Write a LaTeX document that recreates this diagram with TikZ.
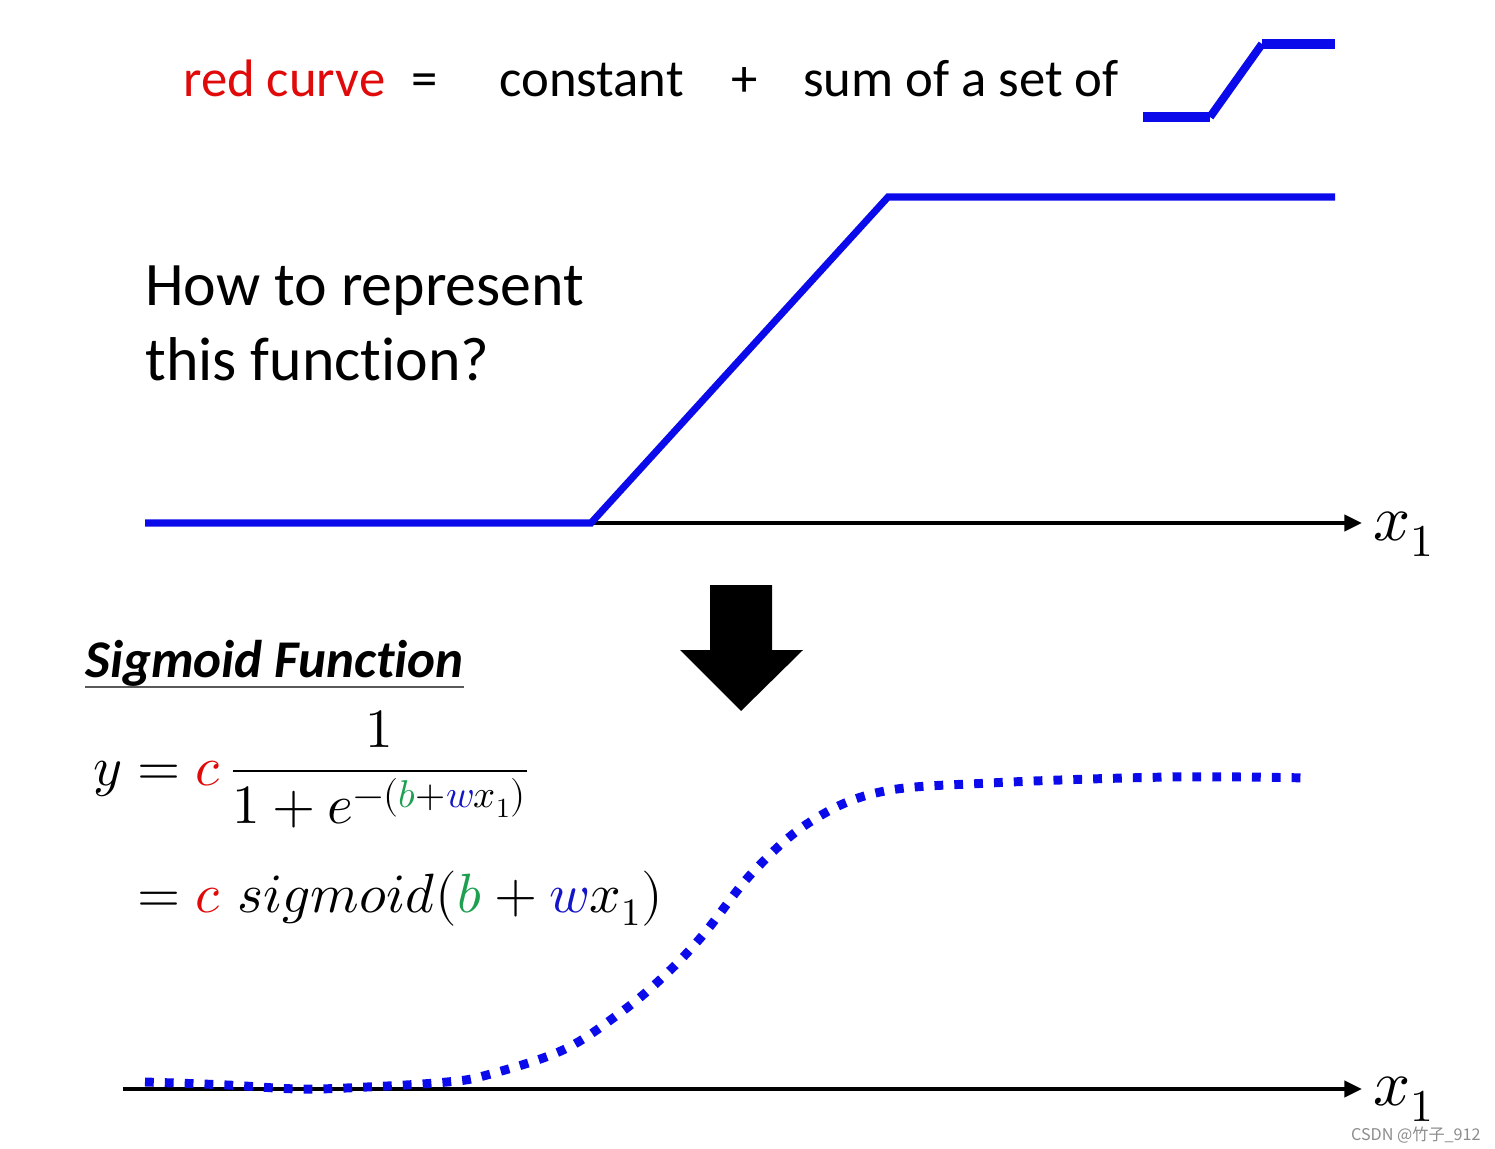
\documentclass[tikz,border=0pt]{standalone}
\usepackage{amsmath}
\usepackage{fontspec}
\usepackage{unicode-math}
\setmathfont{Latin Modern Math}
\usetikzlibrary{arrows.meta, positioning}
\newfontfamily\calibri[Ligatures={NoCommon}]{Carlito}
\newfontfamily\cjk{Noto Sans CJK SC}
\definecolor{curveblue}{RGB}{10,10,235}
\definecolor{redtxt}{RGB}{225,10,10}
\definecolor{bgreen}{RGB}{30,160,80}
\definecolor{wblue}{RGB}{20,20,200}

\begin{document}
\begin{tikzpicture}[
  x=0.02cm, y=-0.02cm,
  headtxt/.style={anchor=base west, inner sep=0pt, font=\calibri\fontsize{30}{36}\selectfont},
  asktxt/.style={anchor=base west, inner sep=0pt, align=left,
    font=\calibri\fontsize{35.2}{42.5}\selectfont},
  mathtxt/.style={anchor=base west, inner sep=0pt, font=\fontsize{31.5}{38}\selectfont},
  axlabel/.style={anchor=base west, inner sep=0pt, font=\fontsize{37}{44}\selectfont},
  axis/.style={line width=2.3pt, -{Triangle[length=10pt, width=9pt]}},
  ramp/.style={curveblue, line width=4pt},
  sig/.style={curveblue, line width=5.1pt, dash pattern=on 5pt off 6.3pt}
]
\useasboundingbox (0,0) rectangle (1495,1149);

% ============ TOP LINE ============
\node[headtxt, text=redtxt] (redc) at (183,97) {red curve};
\node[headtxt] (eq) at (411,97) {=};
\node[headtxt] (const) at (499,97) {constant};
\node[headtxt] (plus) at (731,97) {+};
\node[headtxt] (sumof) at (803,97) {sum of a set of};

% small step icon
\coordinate (st1) at (1143,117);
\coordinate (st2) at (1210,117);
\coordinate (st3) at (1262,44);
\coordinate (st4) at (1335,44);
\draw[curveblue, line width=6.2pt] (st1) -- (st2);
\draw[curveblue, line width=4.6pt] (st2) -- (st3);
\draw[curveblue, line width=6.2pt] (st3) -- (st4);

% ============ HARD SIGMOID ============
\node[asktxt] (ask) at (145,380) {How to represent\\this function?};

\coordinate (ax1s) at (145,523);
\coordinate (ax1e) at (1362,523);
\draw[axis] (ax1s) -- (ax1e);
\node[axlabel] (xone) at (1373,540) {$x_1$};

\coordinate (r1) at (145,523);
\coordinate (r2) at (591,523);
\coordinate (r3) at (888,197);
\coordinate (r4) at (1335,197);
\draw[ramp] (r1) -- (r2) -- (r3) -- (r4);

% big down arrow
\fill (710,585) -- (772,585) -- (772,650) -- (803,650) -- (741,711)
  -- (680,650) -- (710,650) -- cycle;

% ============ SIGMOID ============
\node[anchor=base west, inner sep=0pt,
  font=\calibri\bfseries\itshape\fontsize{30.2}{36}\selectfont] (sigtitle)
  at (85,677) {Sigmoid Function};
\draw[black!65, line width=1.2pt] (sigtitle.west |- 0,687) -- (sigtitle.east |- 0,687);

\node[mathtxt] (sigdef) at (93,785)
  {$\displaystyle y = {\color{redtxt}c}\,\frac{1}{1+e^{-({\color{bgreen}b}+{\color{wblue}w}x_1)}}$};
\node[mathtxt] (sigshort) at (137,912)
  {$= {\color{redtxt}c}\ sigmoid({\color{bgreen}b}+{\color{wblue}w}x_1)$};

\coordinate (ax2s) at (123,1089);
\coordinate (ax2e) at (1362,1089);
\draw[axis] (ax2s) -- (ax2e);
\node[axlabel] (xtwo) at (1373,1105) {$x_1$};

\draw[sig] plot[smooth, tension=0.6] coordinates {
  (145,1082) (227,1085) (300,1089) (367,1087) (447,1082) (487,1075)
  (563,1050) (620,1013) (663,977) (703,935) (753,872) (810,822)
  (880,792) (990,783) (1170,777) (1308,778)};

% watermark
\node[anchor=base east, inner sep=0pt, text=black!45, font=\cjk\fontsize{9.2}{11}\selectfont]
  (mark) at (1481,1140) {CSDN @竹子\_912};
\end{tikzpicture}
\end{document}
